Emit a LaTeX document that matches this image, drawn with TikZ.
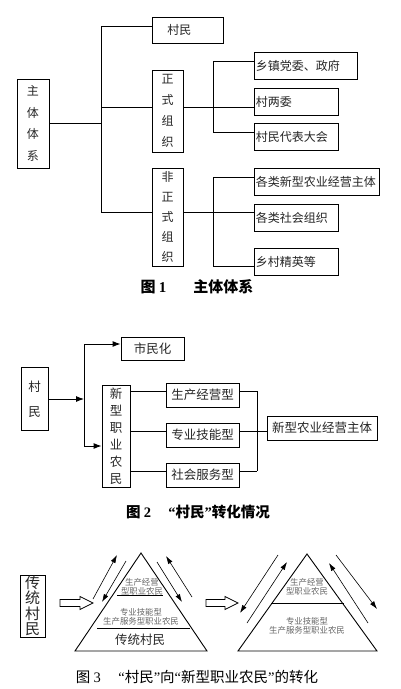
\documentclass[tikz,border=0pt]{standalone}
\usepackage{fontspec}
\setmainfont{Liberation Serif}
\newfontfamily\cjk{Noto Sans CJK SC}
\newcommand\oq{{\rmfamily“}}
\newcommand\cq{{\rmfamily”}}
\usetikzlibrary{arrows.meta,shadows}
\begin{document}
\begin{tikzpicture}[x=1pt,y=-1pt,line width=0.9pt,
  every node/.style={font=\cjk\fontsize{12}{14}\selectfont,text=black!85},
  box/.style={draw,fill=white,inner sep=0pt,
    drop shadow={shadow xshift=0.8pt,shadow yshift=-0.8pt,fill=black!55,opacity=1}},
  vbox/.style={box,align=center},
  rbox/.style={box,anchor=north west,minimum height=27,inner xsep=1.5pt,align=left},
  ftwo/.style={font=\cjk\fontsize{12.5}{14}\selectfont},
  arr/.style={-{Latex[length=8pt,width=6pt]}},
  tarr/.style={line width=0.6pt,-{Latex[length=8pt,width=5pt]}},
  small/.style={font=\cjk\fontsize{8.4}{8.8}\selectfont,text=black!60,align=center},
  capt/.style={font=\cjk\fontsize{14.5}{16}\selectfont,text=black}]
\useasboundingbox (0,0) rectangle (400,689);

% figure 1
\node[vbox,minimum width=32,minimum height=89,font=\cjk\fontsize{12}{21.5}\selectfont] (sys) at (33,123.5) {主\\体\\体\\系};
\node[box,anchor=north west,minimum height=26,text width=41,inner xsep=15pt,align=left] (cm) at (152,17) {村民};
\node[vbox,minimum width=31,minimum height=82,font=\cjk\fontsize{12}{21}\selectfont] (zs) at (167.5,111) {正\\式\\组\\织};
\node[vbox,minimum width=31,minimum height=98,font=\cjk\fontsize{12}{20}\selectfont] (fzs) at (167.5,217) {非\\正\\式\\组\\织};
\node[rbox,text width=100] (xz) at (254,52) {乡镇党委、政府};
\node[rbox,text width=81] (lw) at (254,88) {村两委};
\node[rbox,text width=81] (db) at (254,123) {村民代表大会};
\node[rbox,text width=122] (xn) at (254,168) {各类新型农业经营主体};
\node[rbox,text width=81] (sh) at (254,204) {各类社会组织};
\node[rbox,text width=81] (jy) at (254,248) {乡村精英等};
\coordinate (b1) at (101,26);
\coordinate (b2) at (101,107);
\coordinate (b3) at (101,212);
\coordinate (s1) at (213,61);
\coordinate (s2) at (213,107);
\coordinate (s3) at (213,132);
\coordinate (u1) at (213,177);
\coordinate (u2) at (213,212);
\coordinate (u3) at (213,266);
\draw (sys.east) -- (sys.east -| b1);
\draw (b1) -- (b3);
\draw (b1) -- (b1 -| cm.west);
\draw (b2) -- (b2 -| zs.west);
\draw (b3) -- (b3 -| fzs.west);
\draw (s2 -| zs.east) -- (s2);
\draw (s1) -- (s3);
\draw (s1) -- (s1 -| xz.west);
\draw (s2) -- (s2 -| lw.west);
\draw (s3) -- (s3 -| db.west);
\draw (u2 -| fzs.east) -- (u2);
\draw (u1) -- (u3);
\draw (u1) -- (u1 -| xn.west);
\draw (u2) -- (u2 -| sh.west);
\draw (u3) -- (u3 -| jy.west);
\node[capt,font=\cjk\bfseries\fontsize{15}{16}\selectfont] (cap1) at (197,287) {图 {\rmfamily 1}\hspace{1.8em}主体体系};

% figure 2
\node[vbox,minimum width=27,minimum height=63,font=\cjk\fontsize{12.5}{25}\selectfont] (cmin) at (34.5,399) {村\\民};
\node[box,ftwo,minimum width=63,minimum height=23] (smh) at (152.5,348.5) {市民化};
\node[vbox,minimum width=28,minimum height=102,font=\cjk\fontsize{12.5}{17}\selectfont] (xx) at (116,436) {新\\型\\职\\业\\农\\民};
\node[box,ftwo,minimum width=73,minimum height=24] (sc) at (202.5,395) {生产经营型};
\node[box,ftwo,minimum width=73,minimum height=24] (zy) at (202.5,435) {专业技能型};
\node[box,ftwo,minimum width=73,minimum height=24] (fw) at (202.5,475) {社会服务型};
\node[box,ftwo,minimum width=110,minimum height=24] (zt) at (322,428) {新型农业经营主体};
\coordinate (c1) at (84,344);
\coordinate (c2) at (84,399);
\coordinate (c3) at (84,446);
\coordinate (r1) at (257,391);
\coordinate (r2) at (257,431);
\coordinate (r3) at (257,471);
\draw[arr] (cmin.east) -- (c2);
\draw (c1) -- (c3);
\draw[arr] (c1) -- (c1 -| smh.west);
\draw[arr] (c3) -- (c3 -| xx.west);
\draw (r1 -| xx.east) -- (r1 -| sc.west);
\draw (r2 -| xx.east) -- (r2 -| zy.west);
\draw (r3 -| xx.east) -- (r3 -| fw.west);
\draw (r1 -| sc.east) -- (r1);
\draw (r2 -| zy.east) -- (r2);
\draw (r3 -| fw.east) -- (r3);
\draw (r1) -- (r3);
\draw (r2) -- (r2 -| zt.west);
\node[capt,font=\cjk\bfseries\fontsize{14.5}{16}\selectfont] (cap2) at (198,512) {图 {\rmfamily 2}\hspace{1.2em}\oq 村民\cq 转化情况};

% figure 3
\node[vbox,minimum width=25,minimum height=62,font=\cjk\fontsize{15}{15.5}\selectfont] (ctb) at (32.5,606) {传\\统\\村\\民};
\draw[line width=0.8pt] (60,599.5) -- (80,599.5) -- (80,596.5) -- (93,603) -- (80,609.5) -- (80,606.5) -- (60,606.5) -- cycle;
\draw[line width=0.8pt] (206,599.5) -- (225,599.5) -- (225,596.5) -- (238,603) -- (225,609.5) -- (225,606.5) -- (206,606.5) -- cycle;
% left pyramid
\draw (141,553) -- (207,651) -- (75,651) -- cycle;
\draw (117,595) -- (163,595);
\draw (97,628) -- (190,628);
\node[small] (la) at (142,587) {生产经营\\型职业农民};
\node[small] (lb) at (141,617) {专业技能型\\生产服务型职业农民};
\node[font=\cjk\fontsize{12.5}{14}\selectfont] (lc) at (140,640) {传统村民};
\draw[tarr] (93,599) -- (117,555);
\draw[tarr] (126,561) -- (102,602);
\draw[tarr] (192,597) -- (166,556);
\draw[tarr] (157,562) -- (182,602);
% right pyramid
\draw (307,554) -- (377,651) -- (238,651) -- cycle;
\draw (271,603) -- (344,603);
\node[small] (ra) at (307,586.5) {生产经营\\型职业农民};
\node[small] (rb) at (307,626) {专业技能型\\生产服务型职业农民};
\draw[tarr] (278,555) -- (240,613);
\draw[tarr] (247,623) -- (287,562);
\draw[tarr] (368,623) -- (329,563);
\draw[tarr] (336,555) -- (377,609);
\node[capt] (cap3) at (197,677) {图 {\rmfamily 3}\hspace{1.2em}\oq 村民\cq 向\oq 新型职业农民\cq 的转化};
\end{tikzpicture}
\end{document}
